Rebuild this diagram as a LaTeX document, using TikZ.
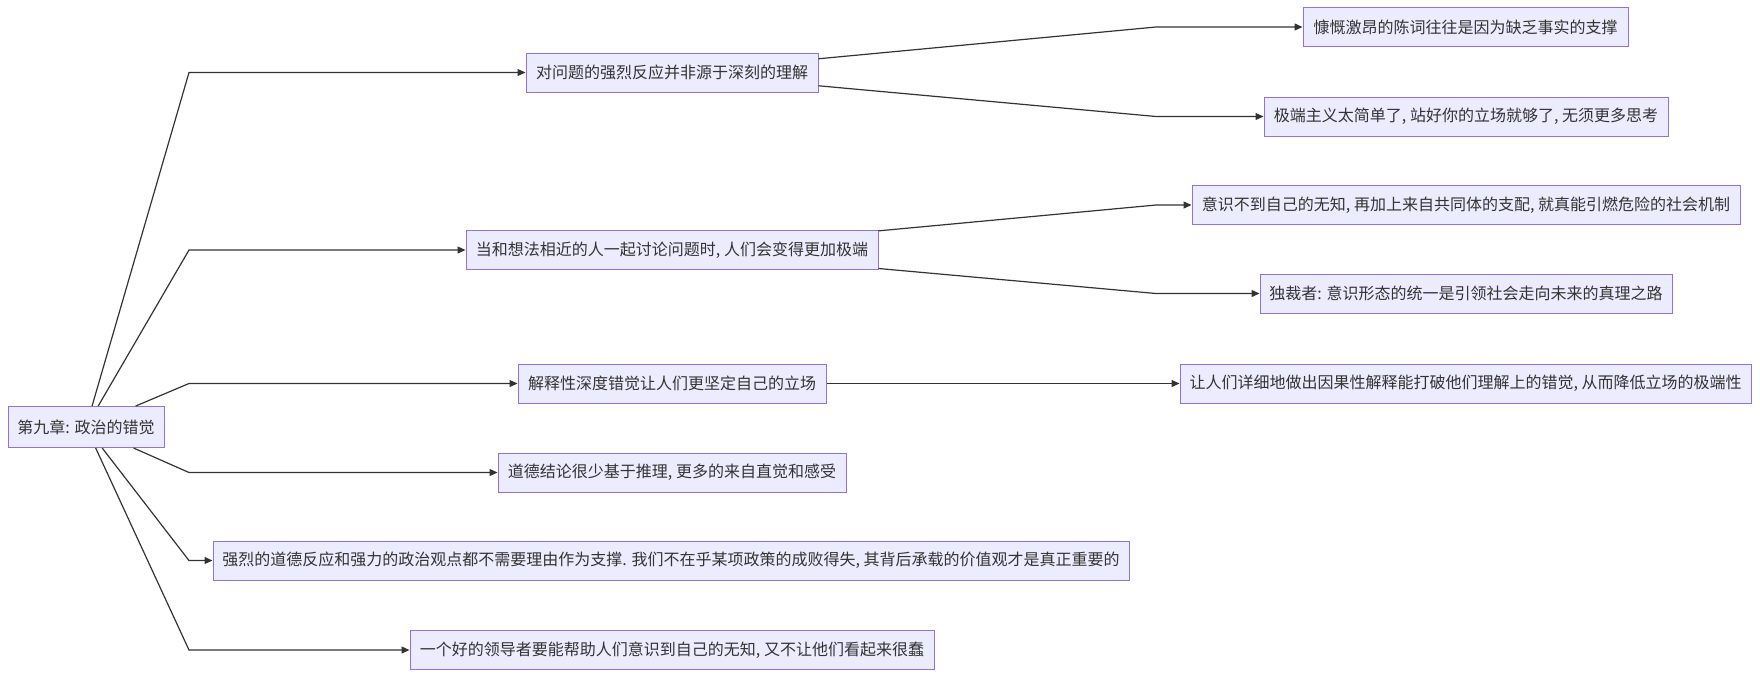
\documentclass[tikz,border=0pt]{standalone}
\usepackage{fontspec}
\setmainfont{Noto Sans CJK SC}
\usetikzlibrary{arrows.meta}
\definecolor{boxfill}{HTML}{ECECFF}
\definecolor{boxline}{HTML}{9370DB}
\definecolor{edgecol}{HTML}{333333}
\definecolor{txt}{HTML}{333333}
\tikzset{
  mbox/.style={draw=boxline, fill=boxfill, line width=1pt, text=txt,
    font=\fontsize{16pt}{19pt}\selectfont, inner xsep=0pt, inner ysep=0pt,
    minimum height=39pt, align=center},
  edge/.style={draw=edgecol, line width=1.2pt, -{Triangle[length=8pt,width=7pt]}}
}
\begin{document}
\begin{tikzpicture}[x=1pt,y=-1pt]
\useasboundingbox (0,0) rectangle (1760,678);
% root
\node[mbox, minimum width=156pt, minimum height=41pt] (root) at (86,427) {第九章: 政治的错觉};
% level 2
\node[mbox, minimum width=292pt] (A) at (672,72.5) {对问题的强烈反应并非源于深刻的理解};
\node[mbox, minimum width=412pt] (B) at (672,250) {当和想法相近的人一起讨论问题时, 人们会变得更加极端};
\node[mbox, minimum width=308pt] (C) at (672,383.5) {解释性深度错觉让人们更坚定自己的立场};
\node[mbox, minimum width=348pt] (D) at (672,472.5) {道德结论很少基于推理, 更多的来自直觉和感受};
\node[mbox, minimum width=916pt] (E) at (671,560.5) {强烈的道德反应和强力的政治观点都不需要理由作为支撑. 我们不在乎某项政策的成败得失, 其背后承载的价值观才是真正重要的};
\node[mbox, minimum width=524pt] (F) at (672,650) {一个好的领导者要能帮助人们意识到自己的无知, 又不让他们看起来很蠢};
% level 3
\node[mbox, minimum width=325pt] (A1) at (1465.5,27) {慷慨激昂的陈词往往是因为缺乏事实的支撑};
\node[mbox, minimum width=404pt] (A2) at (1466,116.5) {极端主义太简单了, 站好你的立场就够了, 无须更多思考};
\node[mbox, minimum width=548pt] (B1) at (1466,205) {意识不到自己的无知, 再加上来自共同体的支配, 就真能引燃危险的社会机制};
\node[mbox, minimum width=412pt] (B2) at (1466,293.5) {独裁者: 意识形态的统一是引领社会走向未来的真理之路};
\node[mbox, minimum width=571pt] (C1) at (1465.5,383.5) {让人们详细地做出因果性解释能打破他们理解上的错觉, 从而降低立场的极端性};
% bend coordinates
\coordinate (bA) at (189,72.5);
\coordinate (bB) at (189,250);
\coordinate (bC) at (189,383.5);
\coordinate (bD) at (189,472.5);
\coordinate (bE) at (189,560.5);
\coordinate (bF) at (189,650);
\coordinate (bA1) at (1156,27);
\coordinate (bA2) at (1156,116.5);
\coordinate (bB1) at (1156,205);
\coordinate (bB2) at (1156,293.5);
% edges
\draw[edge] (root) -- (bA) -- (A);
\draw[edge] (root) -- (bB) -- (B);
\draw[edge] (root) -- (bC) -- (C);
\draw[edge] (root) -- (bD) -- (D);
\draw[edge] (root) -- (bE) -- (E);
\draw[edge] (root) -- (bF) -- (F);
\draw[edge] (A) -- (bA1) -- (A1);
\draw[edge] (A) -- (bA2) -- (A2);
\draw[edge] (B) -- (bB1) -- (B1);
\draw[edge] (B) -- (bB2) -- (B2);
\draw[edge] (C) -- (C1);
\end{tikzpicture}
\end{document}
